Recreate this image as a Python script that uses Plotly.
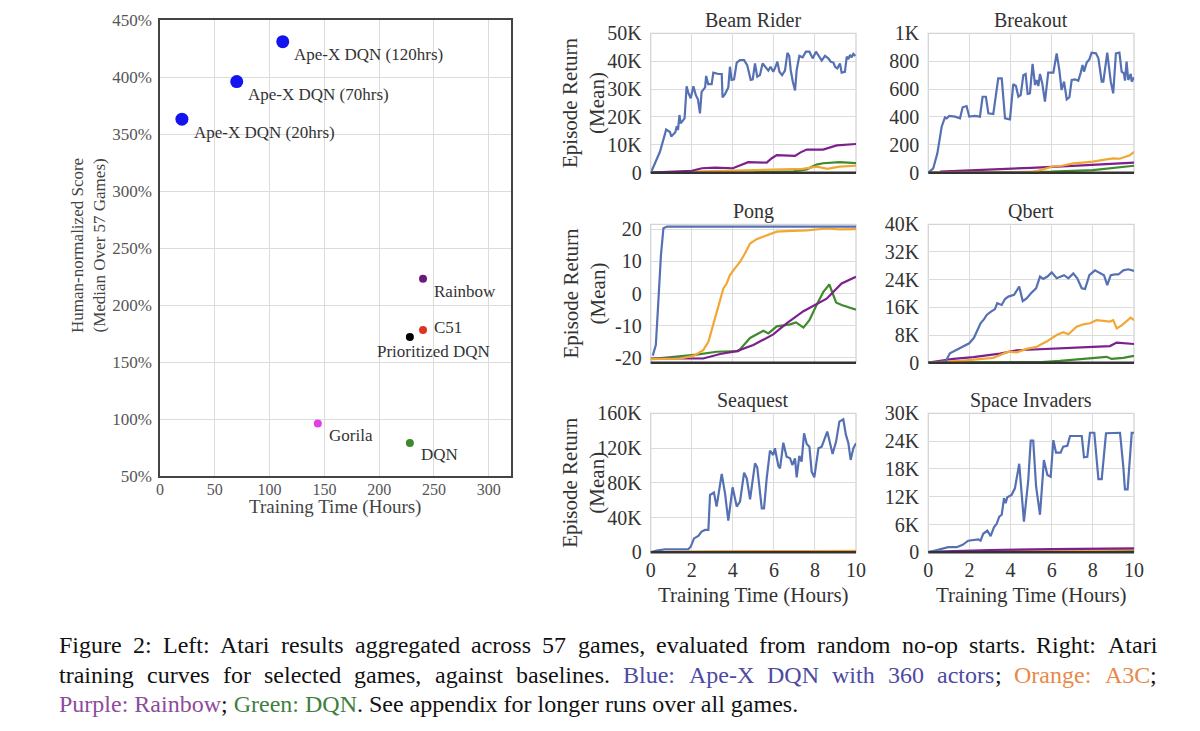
import plotly.graph_objects as go

W, H = 1200, 731
FONT = "Liberation Serif"
PAGE_OFFSET = 8  # the page body margin shifts the figure by this many pixels

# ---- left panel: median human-normalized score vs training time ----
METHODS = ["Ape-X DQN (120hrs)", "Ape-X DQN (70hrs)", "Ape-X DQN (20hrs)",
           "Rainbow", "C51", "Prioritized DQN", "Gorila", "DQN"]
HOURS = [112, 70, 20, 240, 240, 228, 144, 228]
SCORE = [431, 396, 363, 223, 178, 172, 96, 79]

METHOD_COLORS = ["#1414f0", "#1414f0", "#1414f0", "#6a1b7a", "#e0321e", "#000000", "#e040e6", "#3d8a2a"]
METHOD_SIZES = [13, 13, 13, 8, 8, 8, 8, 8]
LABEL_SHIFT = [(9, -13), (9, -13), (10, -13), (9, -13), (9, 3), (-35, -15), (9, -12), (9, -12)]

# ---- right panels (x in hours; K axes stored in thousands) ----
BEAM_APEX_T = [0.05, 0.45, 0.7, 0.75, 0.94, 1.0, 1.2, 1.27, 1.33, 1.4, 1.46, 1.56, 1.65, 1.75, 1.83, 1.95, 2.08, 2.2,
               2.3, 2.4, 2.48, 2.65, 2.7, 2.8, 2.97, 3.05, 3.3, 3.46, 3.5, 3.62, 3.78, 3.86, 3.94, 4.06, 4.19, 4.35,
               4.55, 4.7, 4.87, 4.97, 5.08, 5.19, 5.32, 5.45, 5.57, 5.73, 5.84, 5.97, 6.05, 6.17, 6.27, 6.4, 6.54,
               6.66, 6.75, 6.82, 6.92, 7.03, 7.11, 7.24, 7.4, 7.56, 7.73, 7.89, 8.05, 8.17, 8.33, 8.49, 8.65, 8.77,
               8.9, 8.98, 9.09, 9.22, 9.3, 9.46, 9.55, 9.63, 9.71, 9.79, 9.87, 9.97]
BEAM_APEX_K = [0.7, 7.5, 14, 15.5, 14.6, 13, 14.5, 16.7, 15.3, 20.7, 17.7, 18.9, 19.5, 31, 28.7, 26.7, 31, 27.8,
               26.3, 21.3, 29, 30.6, 34.7, 31.8, 31.8, 35.9, 35.4, 35.4, 27, 28.2, 30.6, 38, 33.3, 33.5, 39.5, 40.4,
               40.4, 38.6, 33.3, 33.5, 39.2, 34.4, 35, 39.2, 38, 36.6, 38, 36.2, 37.4, 39.8, 36.2, 35, 36.6,
               43, 41.9, 36.8, 32.7, 29.5, 36.8, 41.9, 41.4, 43.4, 43.4, 41, 43.4, 41.9, 40.2, 41.9, 41, 39.8,
               39.5, 38, 37.4, 39.2, 35.9, 36.2, 41.6, 40.7, 42.3, 41.4, 42.6, 41.9]
BEAM_A3C_T = [0, 2.7, 6.0, 7.4, 8.1, 8.6, 9.2, 10]
BEAM_A3C_K = [0, 0.5, 1.2, 1.4, 2.2, 1.4, 2.2, 2.5]
BEAM_RAINBOW_T = [0, 2.0, 2.5, 3.13, 4.0, 4.5, 4.75, 5.65, 5.9, 6.14, 7.03, 7.3, 7.6, 8.4, 8.8, 9.06, 10]
BEAM_RAINBOW_K = [0, 0.7, 1.6, 1.8, 1.6, 3.0, 3.8, 3.6, 5.2, 6.3, 6.0, 7.3, 8.3, 8.3, 9.2, 9.8, 10.3]
BEAM_DQN_T = [0, 5.0, 6.95, 7.6, 8.08, 8.4, 9.2, 10]
BEAM_DQN_K = [0, 0.1, 0.5, 1.2, 2.9, 3.4, 3.8, 3.4]

BREAK_APEX_T = [0, 0.24, 0.44, 0.65, 0.81, 0.89, 1.02, 1.3, 1.54, 1.67, 1.86, 1.99, 2.27, 2.51, 2.64, 2.8, 2.92,
                3.16, 3.4, 3.57, 3.73, 3.97, 4.13, 4.26, 4.38, 4.49, 4.62, 4.73, 4.83, 4.94, 5.07, 5.19, 5.27, 5.35,
                5.43, 5.54, 5.67, 5.83, 6.08, 6.24, 6.37, 6.48, 6.6, 6.73, 6.86, 6.97, 7.13, 7.29, 7.41, 7.5, 7.57,
                7.7, 7.83, 7.94, 8.15, 8.27, 8.43, 8.51, 8.7, 8.87, 8.99, 9.12, 9.29, 9.4, 9.51, 9.56, 9.64, 9.72,
                9.84, 9.89, 10]
BREAK_APEX = [0, 31, 139, 330, 397, 390, 407, 402, 390, 469, 478, 402, 407, 402, 545, 545, 426,
              421, 677, 677, 390, 383, 636, 622, 545, 557, 700, 708, 565, 569, 780, 629, 665, 622,
              708, 641, 510, 718, 718, 856, 737, 593, 653, 526, 541, 665, 670, 660, 718, 773, 725,
              790, 813, 861, 856, 820, 653, 653, 861, 653, 569, 856, 861, 725, 713, 660, 797, 665,
              708, 653, 684]
BREAK_A3C_T = [0, 5.0, 5.5, 6.0, 6.5, 7.05, 7.5, 8.0, 8.5, 9.0, 9.3, 9.64, 9.8, 10]
BREAK_A3C = [0, 2, 20, 43, 50, 67, 72, 79, 92, 103, 100, 115, 125, 150]
BREAK_RAINBOW_T = [0.57, 2.5, 5.0, 7.5, 10]
BREAK_RAINBOW = [7, 18, 35, 53, 72]
BREAK_DQN_T = [0, 3.0, 6.0, 8.0, 9.0, 10]
BREAK_DQN = [0, 1, 7, 19, 33, 50]

PONG_APEX_T = [0.1, 0.25, 0.35, 0.5, 0.62, 0.8, 2, 4, 6, 8, 10]
PONG_APEX = [-19.3, -16, -5, 12, 20.3, 20.8, 20.8, 20.7, 20.8, 20.8, 20.8]
PONG_A3C_T = [0, 1.43, 2.08, 2.56, 2.81, 3.05, 3.3, 3.46, 3.54, 3.7, 3.86, 4.1, 4.35, 4.59, 4.84, 5.16, 5.49,
              5.81, 6.14, 6.62, 7.6, 8.57, 9.2, 10]
PONG_A3C = [-20.4, -20.2, -19.4, -17.6, -15, -9.8, -3.6, -0.5, 1.6, 3.1, 5.7, 7.8, 9.8, 12.4, 15.5, 16.9, 17.6,
            18.3, 19.2, 19.4, 19.6, 20.2, 19.9, 20]
PONG_RAINBOW_T = [0, 2.56, 3.38, 4.19, 5.0, 5.97, 6.62, 7.44, 8.57, 9.3, 10]
PONG_RAINBOW = [-20.2, -20.2, -18.8, -17.9, -16, -12.7, -9.3, -5.5, -1.6, 3.1, 5.2]
PONG_DQN_T = [0, 2.24, 3.21, 4.27, 4.84, 5.49, 5.73, 6.14, 6.79, 7.08, 7.44, 7.73, 8.08, 8.41, 8.7, 9.03, 9.3, 10]
PONG_DQN = [-20.4, -19, -18.1, -17.9, -13.8, -11.6, -12.4, -10.2, -9.6, -9, -10.6, -8.3, -3.6, 0.5, 2.8, -2.8,
            -3.6, -5]

QBERT_APEX_T = [0, 0.81, 1.05, 1.38, 1.7, 1.99, 2.22, 2.35, 2.54, 2.71, 2.84, 3.03, 3.24, 3.35, 3.57, 3.73, 3.89,
                4.17, 4.42, 4.59, 4.78, 4.98, 5.24, 5.43, 5.59, 5.79, 6.0, 6.24, 6.48, 6.6, 6.81, 7.05, 7.24, 7.46,
                7.62, 7.83, 8.1, 8.35, 8.54, 8.7, 8.87, 9.08, 9.24, 9.48, 9.72, 10]
QBERT_APEX_K = [0, 0, 2.7, 3.7, 4.6, 5.6, 7.2, 9, 11.4, 12.6, 13.8, 14.7, 15.5, 17.2, 16.7, 18.4, 19.1,
                19.6, 22, 17.8, 18.6, 20, 21.5, 24.9, 24.2, 24.9, 26.1, 24.4, 24.9, 25.3, 24.4, 25.8, 24.4, 21.5,
                21.3, 25.3, 26.7, 25.8, 25.3, 22.4, 25.3, 25.5, 25.5, 26.7, 27.0, 26.5]
QBERT_A3C_T = [0, 1.54, 3.16, 3.89, 4.3, 4.78, 5.27, 5.75, 6.24, 6.56, 6.81, 7.21, 7.54, 7.86, 8.18, 8.51, 8.83,
               8.99, 9.16, 9.4, 9.64, 9.84, 10]
QBERT_A3C_K = [0, 0.5, 1.4, 3.2, 3.0, 4.0, 4.6, 6.1, 8.0, 8.8, 8.2, 10.4, 11.1, 11.4, 12.3, 12.0, 11.9,
               12.3, 9.9, 10.8, 12.0, 13.0, 12.3]
QBERT_RAINBOW_T = [0, 1.22, 2.19, 3.48, 4.3, 5.59, 6.4, 8.0, 8.83, 9.16, 10]
QBERT_RAINBOW_K = [0, 1.1, 1.6, 2.6, 3.6, 4.0, 4.3, 4.6, 4.8, 5.8, 5.4]
QBERT_DQN_T = [0, 5.5, 6.4, 7.7, 8.67, 8.91, 9.48, 10]
QBERT_DQN_K = [0, 0.2, 0.5, 1.1, 1.7, 1.1, 1.4, 2.0]

SEA_APEX_T = [0, 0.29, 0.7, 1.83, 1.95, 2.11, 2.32, 2.48, 2.65, 2.81, 2.89, 3.08, 3.21, 3.46, 3.62, 3.78, 3.99,
              4.19, 4.35, 4.55, 4.68, 4.84, 5.08, 5.19, 5.41, 5.52, 5.65, 5.81, 5.97, 6.05, 6.22, 6.3, 6.46, 6.62,
              6.79, 6.9, 7.03, 7.11, 7.24, 7.35, 7.47, 7.6, 7.73, 7.84, 7.97, 8.17, 8.33, 8.49, 8.6, 8.73, 8.86,
              9.03, 9.19, 9.38, 9.51, 9.63, 9.74, 9.87, 10]
SEA_APEX_K = [0, 1.9, 3.5, 3.5, 6.5, 16, 18.8, 23.8, 25.7, 25.7, 66, 68.7, 52.6, 90.2, 67.9, 36.5, 74.8,
              52.6, 58.3, 91.7, 85.2, 61, 102.4, 97.8, 50.6, 50.6, 85.2, 117, 112, 119.7, 99.4, 96.7, 126.2, 110,
              108.2, 100.5, 108.2, 86.3, 110.9, 104.4, 137, 124.7, 121.6, 92.9, 86.3, 119.7, 121.6, 133.2, 139,
              126.2, 113.2, 127.4, 150.4, 153.1, 135.1, 125.5, 106.3, 119.7, 125.5]
SEA_A3C_T = [0, 2, 5, 8, 10]
SEA_A3C_K = [0.6, 1.1, 1.4, 1.5, 1.6]
SEA_RAINBOW_T = [0, 5, 10]
SEA_RAINBOW_K = [0.1, 0.4, 0.7]
SEA_DQN_T = [0, 5, 10]
SEA_DQN_K = [0.05, 0.15, 0.3]

SI_APEX_T = [0, 0.41, 0.97, 1.38, 1.67, 1.94, 2.27, 2.43, 2.54, 2.67, 2.87, 3.03, 3.19, 3.32, 3.45, 3.57, 3.68,
             3.76, 3.84, 4.05, 4.21, 4.42, 4.65, 4.86, 4.98, 5.1, 5.24, 5.43, 5.62, 5.79, 5.95, 6.08, 6.21, 6.43,
             6.56, 6.76, 6.89, 7.46, 7.57, 7.73, 7.86, 8.07, 8.27, 8.43, 8.64, 9.0, 9.32, 9.48, 9.56, 9.69, 9.89,
             10]
SI_APEX_K = [0, 0.5, 1.1, 1.1, 1.6, 2.5, 2.8, 2.8, 2.5, 4.0, 4.7, 3.5, 5.4, 6.1, 7.7, 8.1, 11.7,
             10.6, 11.9, 12.4, 13.8, 19.1, 6.6, 15.6, 24.1, 24.1, 14.2, 8.1, 19.9, 16.7, 16.3, 24.2, 21.5, 21.5,
             22.8, 23.0, 25.1, 25.1, 20.5, 20.6, 25.8, 25.8, 15.8, 15.8, 25.7, 25.8, 25.8, 18.5, 13.6, 13.6, 25.8,
             25.8]
SI_A3C_T = [0, 3, 6, 10]
SI_A3C_K = [0, 0.2, 0.4, 0.6]
SI_RAINBOW_T = [0, 3, 6, 10]
SI_RAINBOW_K = [0.1, 0.5, 0.7, 0.85]
SI_DQN_T = [0, 5, 10]
SI_DQN_K = [0, 0.2, 0.35]

GAME_TITLES = ["Beam Rider", "Breakout", "Pong", "Qbert", "Seaquest", "Space Invaders"]
Y_TICKVALS = [[0, 10, 20, 30, 40, 50], [0, 200, 400, 600, 800, 1000], [-20, -10, 0, 10, 20],
              [0, 8, 16, 24, 32, 40], [0, 40, 80, 120, 160], [0, 6, 12, 18, 24, 30]]
Y_TICKTEXT = [["0", "10K", "20K", "30K", "40K", "50K"], ["0", "200", "400", "600", "800", "1K"],
              ["-20", "-10", "0", "10", "20"], ["0", "8K", "16K", "24K", "32K", "40K"],
              ["0", "40K", "80K", "120K", "160K"], ["0", "6K", "12K", "18K", "24K", "30K"]]
Y_RANGES = [[0, 50], [0, 1000], [-21.5, 21.5], [0, 40], [0, 160], [0, 30]]
X_TICKS = [0, 2, 4, 6, 8, 10]

SERIES = [
    [(BEAM_DQN_T, BEAM_DQN_K), (BEAM_A3C_T, BEAM_A3C_K), (BEAM_RAINBOW_T, BEAM_RAINBOW_K), (BEAM_APEX_T, BEAM_APEX_K)],
    [(BREAK_DQN_T, BREAK_DQN), (BREAK_RAINBOW_T, BREAK_RAINBOW), (BREAK_A3C_T, BREAK_A3C), (BREAK_APEX_T, BREAK_APEX)],
    [(PONG_DQN_T, PONG_DQN), (PONG_RAINBOW_T, PONG_RAINBOW), (PONG_A3C_T, PONG_A3C), (PONG_APEX_T, PONG_APEX)],
    [(QBERT_DQN_T, QBERT_DQN_K), (QBERT_RAINBOW_T, QBERT_RAINBOW_K), (QBERT_A3C_T, QBERT_A3C_K), (QBERT_APEX_T, QBERT_APEX_K)],
    [(SEA_DQN_T, SEA_DQN_K), (SEA_RAINBOW_T, SEA_RAINBOW_K), (SEA_A3C_T, SEA_A3C_K), (SEA_APEX_T, SEA_APEX_K)],
    [(SI_DQN_T, SI_DQN_K), (SI_A3C_T, SI_A3C_K), (SI_RAINBOW_T, SI_RAINBOW_K), (SI_APEX_T, SI_APEX_K)],
]
SERIES_NAMES = [["DQN", "A3C", "Rainbow", "Ape-X"], ["DQN", "Rainbow", "A3C", "Ape-X"],
                ["DQN", "Rainbow", "A3C", "Ape-X"], ["DQN", "Rainbow", "A3C", "Ape-X"],
                ["DQN", "Rainbow", "A3C", "Ape-X"], ["DQN", "A3C", "Rainbow", "Ape-X"]]
LINE_COLORS = {"Ape-X": "#5571b3", "A3C": "#f2a735", "Rainbow": "#7e1f8e", "DQN": "#3f8a2c"}

# caption text, one list of (word, colour) per justified line
BLUE, ORANGE, PURPLE, GREEN, INK = "#4d4aa3", "#e8894a", "#8e4b9c", "#3f7f3f", "#111111"
CAPTION_LINES = [
    [("Figure", INK), ("2:", INK), ("Left:", INK), ("Atari", INK), ("results", INK), ("aggregated", INK),
     ("across", INK), ("57", INK), ("games,", INK), ("evaluated", INK), ("from", INK), ("random", INK),
     ("no-op", INK), ("starts.", INK), ("Right:", INK), ("Atari", INK)],
    [("training", INK), ("curves", INK), ("for", INK), ("selected", INK), ("games,", INK), ("against", INK),
     ("baselines.", INK), ("Blue:", BLUE), ("Ape-X", BLUE), ("DQN", BLUE), ("with", BLUE), ("360", BLUE),
     ("actors", BLUE), (";", INK), ("Orange:", ORANGE), ("A3C", ORANGE), (";", INK)],
]
CAPTION_LAST = (f"<span style='color:{PURPLE}'>Purple: Rainbow</span>; "
                f"<span style='color:{GREEN}'>Green: DQN</span>. See appendix for longer runs over all games.")

# Times / Liberation Serif advance widths (per 1000 em) for justifying the caption
TIMES_W = dict(zip("abcdefghijklmnopqrstuvwxyz",
                   [444, 500, 444, 500, 444, 333, 500, 500, 278, 278, 500, 278, 778, 500, 500, 500, 500, 333,
                    389, 278, 500, 500, 722, 500, 500, 444]))
TIMES_W.update(zip("ABCDEFGHIJKLMNOPQRSTUVWXYZ",
                   [722, 667, 667, 722, 611, 556, 722, 722, 333, 389, 722, 611, 889, 722, 722, 556, 722, 667,
                    556, 611, 722, 722, 944, 722, 722, 611]))
TIMES_W.update({c: 500 for c in "0123456789"})
TIMES_W.update({" ": 250, ",": 250, ".": 250, ":": 278, ";": 278, "-": 333, "(": 333, ")": 333})


def text_width(s, size):
    return sum(TIMES_W.get(ch, 500) for ch in s) * size / 1000.0


def px_x(p):
    return (p - PAGE_OFFSET) / W


def px_y(p):
    return 1 - (p - PAGE_OFFSET) / H


COL_X = [(650.7, 856), (928.3, 1134)]
ROW_Y = [(33.3, 172.7), (224.3, 362.7), (413.3, 552.3)]
CAP_LEFT, CAP_RIGHT, CAP_SIZE = 58, 1156, 24
CAP_Y = [645, 675, 704]

fig = go.Figure()

# left scatter
fig.add_trace(go.Scatter(
    x=HOURS, y=SCORE, mode="markers", text=METHODS,
    marker=dict(color=METHOD_COLORS, size=METHOD_SIZES, opacity=1, line=dict(width=0)),
    xaxis="x", yaxis="y", showlegend=False, hoverinfo="text+x+y",
))

annotations = []
shapes = []

for name, hx, sy, (dx, dy) in zip(METHODS, HOURS, SCORE, LABEL_SHIFT):
    annotations.append(dict(x=hx, y=sy, xref="x", yref="y", text=name, showarrow=False,
                            xanchor="left", yanchor="middle", xshift=dx, yshift=dy,
                            font=dict(family=FONT, size=17, color="#333")))

layout = dict(
    width=W, height=H, margin=dict(l=0, r=0, t=0, b=0, pad=0, autoexpand=False),
    paper_bgcolor="white", plot_bgcolor="white", showlegend=False,
    font=dict(family=FONT),
    xaxis=dict(domain=[px_x(160), px_x(510.7)], range=[0, 320], tickvals=[0, 50, 100, 150, 200, 250, 300],
               showgrid=True, gridcolor="#dcdcdc", gridwidth=1, zeroline=False, automargin=False,
               showline=True, linecolor="#444", linewidth=1.5, mirror=True, ticks="",
               ticklabelstandoff=-2,
               tickfont=dict(family=FONT, size=16, color="#555"), anchor="y"),
    yaxis=dict(domain=[px_y(476), px_y(20)], range=[50, 450], tickvals=list(range(50, 451, 50)),
               ticktext=[f"{v}%" for v in range(50, 451, 50)], automargin=False,
               showgrid=True, gridcolor="#dcdcdc", gridwidth=1, zeroline=False,
               showline=True, linecolor="#444", linewidth=1.5, mirror=True, ticks="",
               ticklabelstandoff=3,
               tickfont=dict(family=FONT, size=17, color="#555"), anchor="x"),
)

annotations.append(dict(x=px_x(335), y=px_y(507), xref="paper", yref="paper", text="Training Time (Hours)",
                        xanchor="center", yanchor="middle",
                        showarrow=False, font=dict(family=FONT, size=19, color="#444")))
annotations.append(dict(x=px_x(88), y=px_y(246), xref="paper", yref="paper", textangle=-90,
                        xanchor="center", yanchor="middle",
                        text="Human-normalized Score<br>(Median Over 57 Games)",
                        showarrow=False, font=dict(family=FONT, size=17, color="#444")))

for i, title in enumerate(GAME_TITLES):
    r, c = divmod(i, 2)
    ax_id = i + 2
    xa, ya = f"xaxis{ax_id}", f"yaxis{ax_id}"
    xr, yr = f"x{ax_id}", f"y{ax_id}"
    x0, x1 = COL_X[c]
    y0, y1 = ROW_Y[r]
    layout[xa] = dict(domain=[px_x(x0), px_x(x1)], range=[0, 10], tickvals=X_TICKS, automargin=False,
                      showticklabels=(r == 2), showgrid=True, gridcolor="#dcdcdc", gridwidth=1.3,
                      zeroline=False, showline=False, ticks="", anchor=yr, ticklabelstandoff=4,
                      tickfont=dict(family=FONT, size=20, color="#333"))
    layout[ya] = dict(domain=[px_y(y1), px_y(y0)], range=Y_RANGES[i], tickvals=Y_TICKVALS[i], automargin=False,
                      ticktext=Y_TICKTEXT[i], showgrid=True, gridcolor="#dcdcdc", gridwidth=1.3,
                      zeroline=False, showline=False, ticks="", anchor=xr, ticklabelstandoff=8,
                      tickfont=dict(family=FONT, size=20, color="#333"))
    for (tx, ty), nm in zip(SERIES[i], SERIES_NAMES[i]):
        fig.add_trace(go.Scatter(x=tx, y=ty, mode="lines", name=nm, xaxis=xr, yaxis=yr,
                                 line=dict(color=LINE_COLORS[nm], width=2.2), showlegend=False))
    shapes.append(dict(type="rect", xref=f"{xr} domain", yref=f"{yr} domain", x0=0, x1=1, y0=0, y1=1,
                       line=dict(color="#d4d4d4", width=1.3), layer="below"))
    shapes.append(dict(type="line", xref=f"{xr} domain", yref=f"{yr} domain", x0=0, x1=1, y0=0, y1=0,
                       line=dict(color="#333", width=2.5)))
    annotations.append(dict(x=px_x((x0 + x1) / 2), y=px_y(y0 - 13), xref="paper", yref="paper",
                            xanchor="center", yanchor="middle",
                            text=title, showarrow=False, font=dict(family=FONT, size=20, color="#333")))
    if c == 0:
        annotations.append(dict(x=px_x(584), y=px_y((y0 + y1) / 2), xref="paper", yref="paper",
                                xanchor="center", yanchor="middle",
                                textangle=-90, text="Episode Return<br>(Mean)", showarrow=False,
                                font=dict(family=FONT, size=21, color="#333")))
    if r == 2:
        annotations.append(dict(x=px_x((x0 + x1) / 2), y=px_y(595), xref="paper", yref="paper",
                                xanchor="center", yanchor="middle",
                                text="Training Time (Hours)", showarrow=False,
                                font=dict(family=FONT, size=21, color="#333")))

# caption: justified lines, one annotation per word
for line, cy in zip(CAPTION_LINES, CAP_Y):
    # a bare ";" sticks to the previous word (no gap)
    gaps = sum(1 for w, _ in line[1:] if w != ";")
    total = sum(text_width(w, CAP_SIZE) for w, _ in line)
    gap = (CAP_RIGHT - CAP_LEFT - total) / gaps
    cx = CAP_LEFT
    for k, (w, col) in enumerate(line):
        if k > 0 and w != ";":
            cx += gap
        annotations.append(dict(x=px_x(cx), y=px_y(cy), xref="paper", yref="paper", text=w, showarrow=False,
                                xanchor="left", yanchor="middle", borderpad=0,
                                font=dict(family=FONT, size=CAP_SIZE, color=col)))
        cx += text_width(w, CAP_SIZE)
annotations.append(dict(x=px_x(CAP_LEFT), y=px_y(CAP_Y[2]), xref="paper", yref="paper", text=CAPTION_LAST,
                        showarrow=False, xanchor="left", yanchor="middle", borderpad=0,
                        font=dict(family=FONT, size=CAP_SIZE, color=INK)))

layout["annotations"] = annotations
layout["shapes"] = shapes
fig.update_layout(**layout)

fig.write_html("out.html")
